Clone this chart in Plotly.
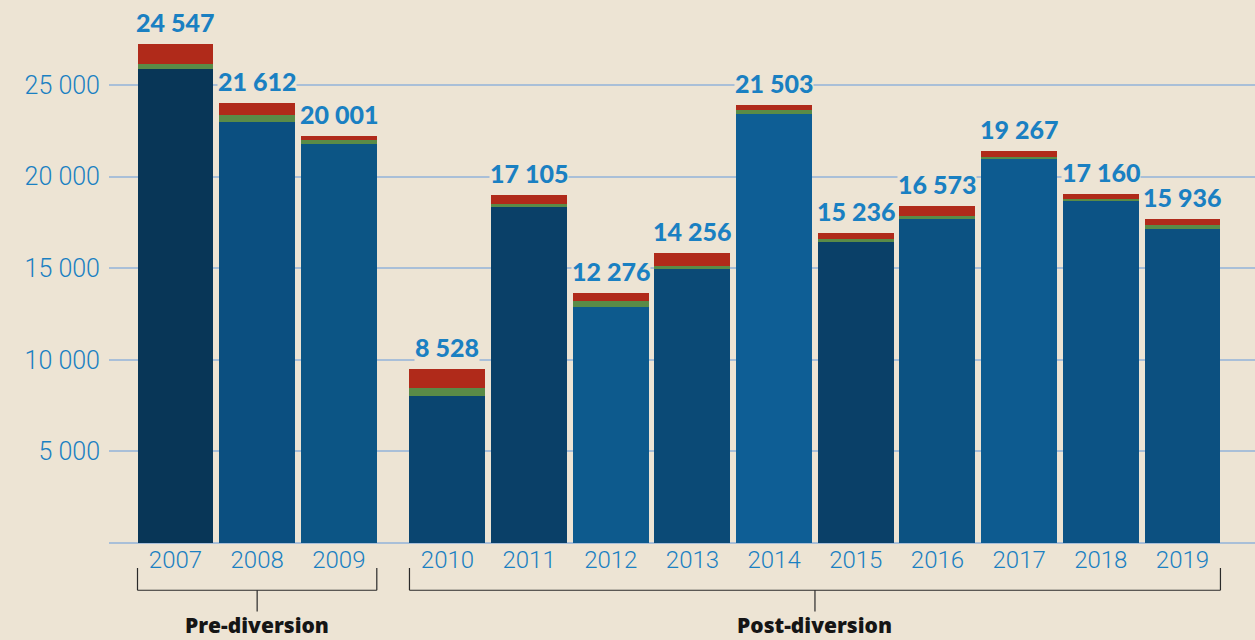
import plotly.graph_objects as go

years = [2007, 2008, 2009, 2010, 2011, 2012, 2013, 2014, 2015, 2016, 2017, 2018, 2019]
blue_vals = [25870, 22980, 21780, 8020, 18340, 12880, 14940, 23420, 16430, 17690, 20960, 18670, 17140]
green_vals = [270, 380, 220, 460, 160, 330, 180, 220, 160, 160, 110, 130, 220]
red_vals = [1090, 660, 220, 1000, 490, 440, 730, 260, 330, 550, 330, 260, 330]
labels = [24547, 21612, 20001, 8528, 17105, 12276, 14256, 21503, 15236, 16573, 19267, 17160, 15936]
y_ticks = [5000, 10000, 15000, 20000, 25000]
groups = [("Pre-diversion", 2007, 2009), ("Post-diversion", 2010, 2019)]

blue_shades = ["#083657", "#0b4f80", "#0c5585", "#0a4570", "#0a4068", "#0d5a8d", "#0b4a76",
               "#0e5e95", "#0a4068", "#0c5282", "#0d5b90", "#0c5385", "#0c5080"]

BG = "#ede4d4"
TXT_BLUE = "#1a80c2"
GRID = "#a9bfd8"

# layout positions: a wider gap separates the two periods
GAP = 0.33
pos = [i + (GAP if y >= 2010 else 0) for i, y in enumerate(years)]
W = 0.93

fig = go.Figure()
fig.add_trace(go.Bar(x=pos, y=blue_vals, width=W, marker=dict(color=blue_shades, line=dict(width=0)), name="blue"))
fig.add_trace(go.Bar(x=pos, y=green_vals, width=W, marker=dict(color="#5a8b47", line=dict(width=0)), name="green"))
fig.add_trace(go.Bar(x=pos, y=red_vals, width=W, marker=dict(color="#b02a1a", line=dict(width=0)), name="red"))

totals = [b + g + r for b, g, r in zip(blue_vals, green_vals, red_vals)]
for p, t, lab in zip(pos, totals, labels):
    fig.add_annotation(x=p, y=t, text=f"{lab:,}".replace(",", " "), showarrow=False,
                       yanchor="bottom", yshift=6, bgcolor=BG, borderpad=0,
                       font=dict(family="Lato", size=25, color=TXT_BLUE, weight=900))

# group brackets
for name, y0, y1 in groups:
    x0 = pos[years.index(y0)] - W / 2
    x1 = pos[years.index(y1)] + W / 2
    xm = (x0 + x1) / 2
    line = dict(color="#2a2a2a", width=1.2)
    fig.add_shape(type="line", xref="x", yref="paper", x0=x0, x1=x0, y0=-0.046, y1=-0.087, line=line)
    fig.add_shape(type="line", xref="x", yref="paper", x0=x1, x1=x1, y0=-0.046, y1=-0.087, line=line)
    fig.add_shape(type="line", xref="x", yref="paper", x0=x0, x1=x1, y0=-0.087, y1=-0.087, line=line)
    fig.add_shape(type="line", xref="x", yref="paper", x0=xm, x1=xm, y0=-0.087, y1=-0.126, line=line)
    fig.add_annotation(x=xm, xref="x", yref="paper", y=-0.151, text=name, showarrow=False,
                       yanchor="middle", borderpad=0,
                       font=dict(family="Open Sans", size=21, color="#151515", weight=800))

fig.update_layout(
    width=1255, height=640,
    barmode="stack", bargap=0,
    showlegend=False,
    paper_bgcolor=BG, plot_bgcolor=BG,
    margin=dict(l=109, r=0, t=0, b=97),
    hovermode=False,
    font=dict(family="Roboto", color=TXT_BLUE),
)
fig.update_xaxes(
    range=[-0.814, 13.218], tickvals=pos, ticktext=[str(y) for y in years],
    showgrid=False, zeroline=False, showline=False, ticks="",
    tickfont=dict(family="Roboto", size=24, color=TXT_BLUE, weight=300),
)
fig.update_yaxes(
    range=[0, 29640], tickvals=y_ticks, ticktext=[f"{v:,}".replace(",", " ") for v in y_ticks],
    showgrid=True, gridcolor=GRID, gridwidth=1.5,
    zeroline=True, zerolinecolor=GRID, zerolinewidth=1.5,
    showline=False, ticks="", ticklabelstandoff=8,
    tickfont=dict(family="Roboto", size=25, color=TXT_BLUE, weight=300),
)
fig.write_html("out.html", config={"displayModeBar": False},
               post_script="document.body.style.margin='0';document.body.style.background='#ede4d4';")
